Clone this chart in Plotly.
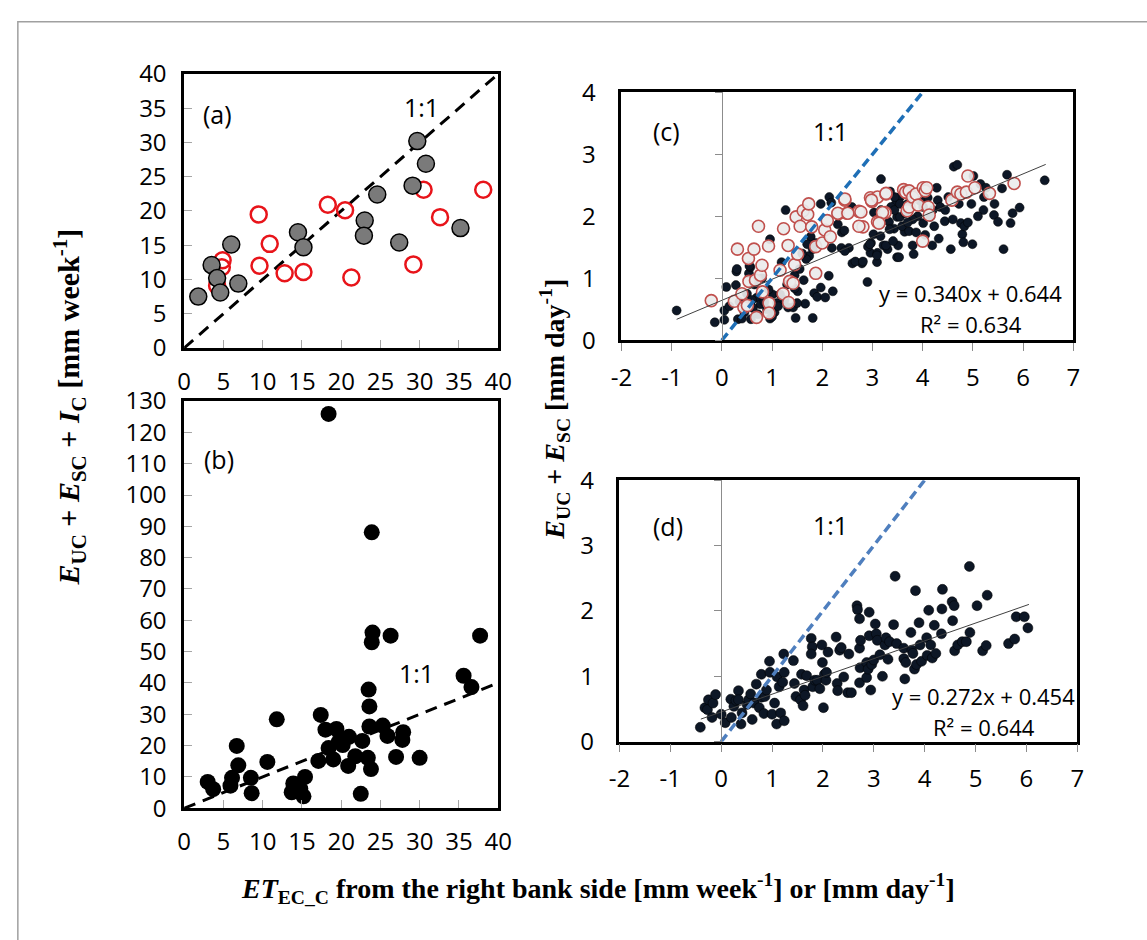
import plotly.graph_objects as go

# ---------------- data ----------------
# (a) weekly sums: period 1 (grey filled) and period 2 (red open)
a_grey = [(1.8, 7.5), (3.5, 12.1), (4.2, 10.2), (4.6, 8.1), (6.0, 15.1), (6.9, 9.4),
          (14.5, 16.9), (15.2, 14.7), (23.0, 18.6), (22.9, 16.4), (24.6, 22.4),
          (27.4, 15.4), (29.1, 23.7), (29.7, 30.2), (30.8, 26.9), (35.2, 17.5)]
a_red = [(4.2, 9.1), (4.8, 11.8), (4.9, 12.8), (9.5, 19.5), (9.6, 12.0), (10.9, 15.2),
         (12.8, 10.9), (15.2, 11.1), (18.3, 20.9), (20.5, 20.1), (21.3, 10.3),
         (29.2, 12.2), (30.5, 23.1), (32.6, 19.1), (38.1, 23.1)]

# (b) weekly sums including interception
b_pts = [(18.4, 125.9), (23.9, 88.1), (24.0, 56.1), (23.9, 53.0), (26.3, 55.1), (37.7, 55.1),
         (35.6, 42.3), (36.6, 38.7), (23.5, 37.9), (23.6, 32.5), (11.8, 28.4), (17.4, 29.8),
         (18.0, 25.1), (19.4, 25.3), (23.6, 26.1), (25.3, 26.4), (25.9, 23.1), (27.9, 24.3),
         (27.8, 21.8), (21.0, 22.8), (20.2, 20.2), (19.7, 21.2), (18.4, 19.2), (19.0, 15.6),
         (17.1, 15.1), (22.7, 21.5), (21.8, 16.6), (20.9, 13.5), (23.4, 16.1), (23.8, 12.5),
         (27.0, 16.4), (30.0, 16.1), (22.5, 4.6), (6.7, 19.9), (6.9, 13.7), (10.6, 14.8),
         (8.5, 9.7), (8.6, 4.8), (6.1, 9.7), (5.9, 7.2), (3.0, 8.4), (3.7, 6.1),
         (13.9, 7.9), (13.7, 5.1), (15.4, 10.0), (15.2, 3.8), (14.8, 6.2)]

# (c) daily values: dark dots and red open circles
c_dark = [(-0.90, 0.48), (-0.14, 0.29), (0.05, 0.48), (0.05, 0.33), (0.09, 0.86), (0.28, 0.89),
          (0.29, 1.11), (0.32, 0.34), (0.54, 1.08), (0.57, 1.18), (0.58, 0.34), (0.70, 0.69),
          (0.77, 0.58), (0.96, 1.63), (0.96, 0.35), (1.01, 0.74), (0.93, 0.82), (1.16, 0.74),
          (1.19, 1.26), (1.27, 2.10), (1.32, 0.53), (1.42, 0.53), (1.47, 0.36), (1.51, 0.79),
          (1.45, 0.84), (1.63, 0.97), (1.66, 0.59), (1.81, 0.36), (1.84, 0.76), (1.90, 0.70),
          (1.97, 0.85), (2.13, 1.04), (2.06, 0.69), (2.21, 0.79), (1.77, 1.67), (1.74, 1.36),
          (1.68, 1.31), (1.81, 1.47), (1.87, 1.57), (1.97, 2.20), (2.14, 2.31), (2.18, 2.22),
          (2.31, 1.87), (2.39, 1.74), (2.44, 1.77), (2.19, 1.49), (2.38, 1.49), (2.53, 1.49),
          (2.45, 1.44), (2.60, 1.24), (2.79, 1.24), (2.90, 0.94), (3.09, 1.26), (2.96, 1.41),
          (2.91, 1.51), (2.97, 1.57), (3.10, 1.41), (3.17, 2.60), (3.03, 2.06), (3.17, 2.10),
          (3.22, 1.53), (3.30, 1.47), (3.49, 1.34), (3.33, 1.91), (3.43, 1.80), (3.49, 1.99),
          (3.46, 2.19), (3.56, 2.32), (3.64, 1.75), (3.51, 1.53),
          (0.15, 0.55), (0.35, 0.62), (0.45, 0.45), (0.62, 0.52), (0.72, 0.42), (0.85, 0.62),
          (0.90, 0.50), (1.05, 0.45), (1.10, 0.60), (1.25, 0.65), (0.50, 0.75), (0.65, 0.90),
          (0.80, 1.00), (1.30, 0.90), (1.45, 1.05), (1.55, 1.15), (1.60, 1.40), (1.70, 1.55),
          (1.50, 0.60), (0.30, 1.15), (0.55, 1.20), (0.60, 0.65), (1.00, 0.38), (1.12, 0.55),
          (0.40, 0.35),
          (2.59, 2.15), (2.66, 1.27), (2.81, 1.27), (2.95, 1.55), (3.02, 1.71), (3.16, 1.68),
          (3.27, 1.53), (3.34, 1.79), (3.41, 1.60), (3.09, 1.37), (3.16, 1.89), (3.37, 2.15),
          (3.44, 2.10), (3.44, 2.31), (3.55, 1.99), (3.59, 1.84), (3.53, 1.34), (3.73, 1.76),
          (3.80, 1.53), (3.82, 1.39), (3.87, 1.74), (4.01, 1.89), (4.01, 2.15), (4.15, 1.99),
          (4.19, 1.53), (4.23, 1.84), (4.28, 2.46), (4.30, 2.26), (4.32, 1.64), (4.35, 2.15),
          (4.44, 1.92), (4.51, 2.31), (4.56, 1.47), (4.62, 2.80), (4.69, 2.83), (4.72, 2.20),
          (4.76, 1.89), (4.79, 1.71), (4.81, 1.58), (4.83, 1.84), (4.97, 2.20), (4.99, 1.55),
          (5.01, 2.65), (5.15, 2.52), (5.21, 2.10), (5.22, 2.31), (5.26, 2.46), (5.43, 2.20),
          (5.42, 2.02), (5.50, 1.91), (5.58, 2.45), (5.61, 1.47), (5.68, 2.67), (5.75, 1.89),
          (5.79, 2.05), (5.93, 2.14), (6.43, 2.58),
          (3.65, 2.05), (3.70, 2.20), (3.90, 2.00), (4.10, 2.30), (4.20, 2.10), (3.80, 1.95),
          (3.95, 2.25), (4.05, 1.70), (3.70, 1.90), (3.35, 2.40), (3.55, 2.20), (4.45, 2.10),
          (4.60, 1.95), (4.90, 1.90), (5.10, 2.00), (4.70, 2.35)]
c_red = [(-0.21, 0.64), (0.25, 0.63), (0.31, 1.47), (0.40, 0.75), (0.44, 0.53), (0.51, 0.56),
         (0.53, 1.32), (0.54, 0.95), (0.64, 1.47), (0.67, 0.97), (0.69, 0.37), (0.73, 1.84),
         (0.77, 1.05), (0.80, 1.21), (0.81, 0.78), (0.93, 1.52), (0.94, 0.60), (0.94, 0.44),
         (1.16, 1.13), (1.22, 0.75), (1.23, 1.80), (1.33, 0.61), (1.32, 1.53), (1.35, 0.95),
         (1.42, 0.92), (1.45, 1.22), (1.51, 1.39), (1.48, 1.99), (1.56, 1.84), (1.62, 2.09),
         (1.71, 2.03), (1.73, 2.20), (1.79, 1.83), (1.87, 1.08), (1.87, 1.51), (2.00, 1.57),
         (2.05, 1.78), (2.10, 1.93), (2.16, 1.67), (2.32, 2.04), (2.45, 2.26), (2.49, 2.05),
         (2.73, 2.08), (2.81, 1.83), (2.96, 2.30), (2.99, 2.24), (3.10, 2.31), (3.10, 1.91),
         (3.27, 2.36), (3.25, 2.06), (3.62, 2.43), (3.68, 2.38), (3.69, 2.09), (3.66, 2.39),
         (3.73, 2.41), (3.73, 2.15), (3.80, 2.31), (3.87, 2.36), (3.91, 2.18), (4.01, 2.46),
         (4.05, 2.41), (4.08, 2.46), (4.11, 2.15), (4.13, 2.02), (4.00, 1.60), (4.58, 2.26),
         (4.69, 2.39), (4.76, 2.36), (4.87, 2.39), (4.90, 2.65), (5.04, 2.46), (5.33, 2.37),
         (5.82, 2.53), (2.98, 2.26), (3.20, 2.06), (3.27, 2.37), (3.13, 1.89), (2.77, 2.07),
         (2.73, 1.84), (2.45, 2.28), (2.31, 2.05), (2.51, 2.05)]
c_slope, c_icept, c_r2 = 0.340, 0.644, 0.634
c_fit_x = [-0.9, 6.45]

# (d) daily values
d_pts = [(-0.41, 0.22), (-0.32, 0.52), (-0.25, 0.64), (-0.27, 0.49), (-0.18, 0.37), (-0.16, 0.59),
         (-0.11, 0.72), (0.00, 0.42), (0.08, 0.29), (0.19, 0.65), (0.20, 0.37), (0.25, 0.54),
         (0.29, 0.63), (0.34, 0.78), (0.34, 0.64), (0.39, 0.27), (0.41, 0.44), (0.51, 0.57),
         (0.54, 0.64), (0.58, 0.73), (0.61, 0.34), (0.65, 0.59), (0.69, 0.88), (0.75, 0.52),
         (0.79, 0.68), (0.79, 1.03), (0.84, 0.43), (0.86, 0.69), (0.89, 0.79), (0.95, 1.23),
         (0.96, 1.06), (1.00, 0.42), (1.05, 0.59), (1.09, 0.27), (1.10, 0.99), (1.14, 0.84),
         (1.17, 0.44), (1.21, 0.91), (1.23, 1.34), (1.24, 1.06), (1.24, 0.32), (1.42, 1.24),
         (1.44, 0.89), (1.47, 0.69), (1.56, 0.64), (1.58, 1.03), (1.61, 0.55), (1.63, 0.79),
         (1.65, 0.71), (1.68, 1.01), (1.77, 1.58), (1.79, 1.45), (1.77, 1.34), (1.80, 0.84),
         (1.84, 0.94), (1.89, 0.94), (1.94, 0.81), (1.98, 1.48), (1.99, 1.21), (2.01, 0.52),
         (2.03, 1.03), (2.06, 0.94), (2.07, 1.06), (2.10, 1.37), (2.26, 1.60), (2.28, 0.89),
         (2.29, 0.78), (2.33, 1.40), (2.36, 1.44), (2.41, 0.99), (2.49, 0.75), (2.51, 1.34),
         (2.56, 0.75), (2.67, 2.08), (2.68, 2.02), (2.72, 1.88), (2.72, 1.43), (2.73, 1.13),
         (2.74, 1.55), (2.72, 0.90), (2.86, 0.98), (2.86, 1.21), (2.89, 1.11), (2.91, 1.98),
         (2.91, 1.62), (2.94, 0.79), (2.96, 1.18), (3.00, 1.25), (3.03, 1.80), (3.05, 1.65),
         (3.07, 1.55), (3.12, 1.33), (3.17, 1.00), (3.22, 1.48), (3.24, 1.59), (3.28, 1.26),
         (3.31, 1.53), (3.39, 1.79), (3.42, 2.53), (3.45, 1.50), (3.59, 1.43), (3.59, 1.27),
         (3.61, 0.96), (3.63, 1.21), (3.73, 1.67), (3.75, 1.40), (3.77, 1.35), (3.82, 2.31),
         (3.80, 1.11), (3.84, 1.18), (3.89, 1.82), (3.91, 1.48), (3.94, 1.23), (4.04, 1.59),
         (4.05, 1.32), (4.08, 2.01), (4.12, 1.48), (4.15, 1.28), (4.19, 1.78), (4.22, 1.35),
         (4.33, 1.65), (4.34, 2.03), (4.35, 2.33), (4.54, 2.14), (4.55, 1.85), (4.58, 2.08),
         (4.59, 1.39), (4.65, 1.48), (4.74, 1.53), (4.82, 1.53), (4.88, 2.68), (4.89, 1.67),
         (5.03, 2.08), (5.14, 1.39), (5.21, 1.47), (5.23, 2.24), (5.65, 1.50), (5.77, 1.57),
         (5.80, 1.91), (5.96, 1.91), (6.03, 1.74)]
d_slope, d_icept, d_r2 = 0.272, 0.454, 0.644
d_fit_x = [-0.4, 6.05]

# axis ticks
week_ticks = list(range(0, 45, 5))
b_yticks = list(range(0, 140, 10))
day_xticks = list(range(-2, 8))
day_yticks = list(range(0, 5))
one_to_one_week = [0, 40]
one_to_one_day = [0, 4]


def unzip(pts):
    return [p[0] for p in pts], [p[1] for p in pts]


# ---------------- figure ----------------
W, H = 1147, 940
TICK_FONT = dict(family="Open Sans", size=24, color="black")
TITLE_FONT = dict(family="Liberation Serif", size=28, color="black")
LEFT_TITLE_FONT = dict(family="Liberation Serif", size=30, color="black")


def fx(px):
    return px / W


def fy(py):
    return 1 - py / H


fig = go.Figure()

# (a)
fig.add_trace(go.Scatter(x=one_to_one_week, y=one_to_one_week, mode="lines",
                         line=dict(color="black", width=3, dash="12px,8px"),
                         xaxis="x", yaxis="y", hoverinfo="skip"))
ax, ay = unzip(a_red)
fig.add_trace(go.Scatter(x=ax, y=ay, mode="markers", xaxis="x", yaxis="y",
                         marker=dict(symbol="circle-open", size=16, color="#e8141a",
                                     line=dict(width=2.5))))
ax, ay = unzip(a_grey)
fig.add_trace(go.Scatter(x=ax, y=ay, mode="markers", xaxis="x", yaxis="y",
                         marker=dict(symbol="circle", size=17, color="#7a7a7a",
                                     line=dict(color="black", width=1.5))))

# (b)
fig.add_trace(go.Scatter(x=one_to_one_week, y=one_to_one_week, mode="lines",
                         line=dict(color="black", width=3, dash="12px,8px"),
                         xaxis="x2", yaxis="y2", hoverinfo="skip"))
bx, by = unzip(b_pts)
fig.add_trace(go.Scatter(x=bx, y=by, mode="markers", xaxis="x2", yaxis="y2",
                         marker=dict(symbol="circle", size=16, color="black")))

# (c)
cx, cy = unzip(c_dark)
fig.add_trace(go.Scatter(x=cx, y=cy, mode="markers", xaxis="x3", yaxis="y3",
                         marker=dict(symbol="circle", size=9, color="#0d1726",
                                     line=dict(color="black", width=0.5))))
cx, cy = unzip(c_red)
fig.add_trace(go.Scatter(x=cx, y=cy, mode="markers", xaxis="x3", yaxis="y3",
                         marker=dict(symbol="circle", size=12, color="rgba(236,236,236,0.92)",
                                     line=dict(color="#c0504d", width=1.6))))
fig.add_trace(go.Scatter(x=c_fit_x, y=[c_slope * v + c_icept for v in c_fit_x], mode="lines",
                         line=dict(color="#404040", width=1), xaxis="x3", yaxis="y3"))
fig.add_trace(go.Scatter(x=one_to_one_day, y=one_to_one_day, mode="lines",
                         line=dict(color="#1f6fb6", width=3.5, dash="9px,5px"),
                         xaxis="x3", yaxis="y5"))

# (d)
dx, dy = unzip(d_pts)
fig.add_trace(go.Scatter(x=dx, y=dy, mode="markers", xaxis="x4", yaxis="y4",
                         marker=dict(symbol="circle", size=10, color="#0d1726",
                                     line=dict(color="black", width=0.5))))
fig.add_trace(go.Scatter(x=d_fit_x, y=[d_slope * v + d_icept for v in d_fit_x], mode="lines",
                         line=dict(color="#404040", width=1), xaxis="x4", yaxis="y4"))
fig.add_trace(go.Scatter(x=one_to_one_day, y=one_to_one_day, mode="lines",
                         line=dict(color="#4f7fbe", width=3.5, dash="9px,5px"),
                         xaxis="x4", yaxis="y6"))


def week_axis(domain, anchor, rng, ticks):
    return dict(domain=domain, anchor=anchor, range=rng, tickvals=ticks,
                ticktext=[str(t) for t in ticks],
                showline=True, linecolor="black", linewidth=2.5, mirror=True,
                ticks="inside", ticklen=8, tickcolor="#a6a6a6", tickwidth=1,
                showgrid=False, zeroline=False, tickfont=TICK_FONT,
                ticklabelstandoff=10)


def day_x(domain, anchor):
    return dict(domain=domain, anchor=anchor, range=[-2, 7], tickvals=day_xticks,
                ticktext=[str(t) for t in day_xticks],
                showline=True, linecolor="black", linewidth=2.5, mirror=True,
                ticks="outside", ticklen=8, tickcolor="#8c8c8c", tickwidth=1,
                showgrid=False, zeroline=False, tickfont=TICK_FONT,
                ticklabelstandoff=6)


def day_y(domain, anchor):
    return dict(domain=domain, anchor=anchor, range=[0, 4], tickvals=day_yticks,
                ticktext=[str(t) for t in day_yticks],
                showline=True, linecolor="black", linewidth=2.5, mirror=True,
                ticks="", showgrid=False, zeroline=False, tickfont=TICK_FONT,
                ticklabelstandoff=18)


c_dom_x = [624, 1086]
d_dom_x = [622, 1090]


def zero_pos(dom):
    return fx(dom[0] + (0 - (-2)) / 9 * (dom[1] - dom[0]))


def zero_axis(over, dom):
    return dict(overlaying=over, anchor="free", position=zero_pos(dom), range=[0, 4],
                tickvals=day_yticks, showticklabels=False, showline=True,
                linecolor="#8c8c8c", linewidth=1, ticks="outside", ticklen=7,
                tickcolor="#8c8c8c", showgrid=False, zeroline=False)


fig.update_layout(
    width=W, height=H, margin=dict(l=0, r=0, t=0, b=0), autosize=False,
    paper_bgcolor="white", plot_bgcolor="white", showlegend=False,
    xaxis=week_axis([fx(177), fx(498)], "y", [0, 40], week_ticks),
    yaxis=week_axis([fy(342), fy(58)], "x", [0, 40], week_ticks),
    xaxis2=week_axis([fx(177), fx(498)], "y2", [0, 40], week_ticks),
    yaxis2=week_axis([fy(819), fy(397)], "x2", [0, 130], b_yticks),
    xaxis3=day_x([fx(c_dom_x[0]), fx(c_dom_x[1])], "y3"),
    yaxis3=day_y([fy(334), fy(77)], "x3"),
    xaxis4=day_x([fx(d_dom_x[0]), fx(d_dom_x[1])], "y4"),
    yaxis4=day_y([fy(750), fy(479)], "x4"),
    yaxis5=zero_axis("y3", c_dom_x),
    yaxis6=zero_axis("y4", d_dom_x),
)

LBL = dict(family="Open Sans", size=25, color="black")
EQ = dict(family="Open Sans", size=22, color="black")
notes = [
    ("x", "y", 4.3, 34.2, "(a)", LBL), ("x", "y", 30.2, 35.2, "1:1", LBL),
    ("x2", "y2", 4.5, 111.5, "(b)", LBL), ("x2", "y2", 29.6, 43.3, "1:1", LBL),
    ("x3", "y3", -1.10, 3.37, "(c)", LBL), ("x3", "y3", 2.17, 3.37, "1:1", LBL),
    ("x3", "y3", 4.95, 0.77, f"y = {c_slope:.3f}x + {c_icept:.3f}", EQ),
    ("x3", "y3", 4.97, 0.27, f"R² = {c_r2:.3f}", EQ),
    ("x4", "y4", -1.05, 3.30, "(d)", LBL), ("x4", "y4", 2.14, 3.31, "1:1", LBL),
    ("x4", "y4", 5.15, 0.70, f"y = {d_slope:.3f}x + {d_icept:.3f}", EQ),
    ("x4", "y4", 5.17, 0.23, f"R² = {d_r2:.3f}", EQ),
]
for xr, yr, x, y, t, f in notes:
    fig.add_annotation(xref=xr, yref=yr, x=x, y=y, text=t, showarrow=False, font=f,
                       xanchor="center", yanchor="middle")

fig.add_annotation(xref="paper", yref="paper", x=fx(60), y=fy(403), textangle=-90,
                   text="<b><i>E</i><sub>UC</sub> + <i>E</i><sub>SC</sub> + <i>I</i><sub>C</sub> "
                        "[mm week<sup>-1</sup>]</b>",
                   showarrow=False, font=LEFT_TITLE_FONT, xanchor="center", yanchor="middle")
fig.add_annotation(xref="paper", yref="paper", x=fx(556), y=fy(405), textangle=-90,
                   text="<b><i>E</i><sub>UC</sub> + <i>E</i><sub>SC</sub> [mm day<sup>-1</sup>]</b>",
                   showarrow=False, font=TITLE_FONT, xanchor="center", yanchor="middle")
fig.add_annotation(xref="paper", yref="paper", x=fx(600), y=fy(902),
                   text="<b><i>ET</i><sub>EC_C</sub> from the right bank side "
                        "[mm week<sup>-1</sup>] or [mm day<sup>-1</sup>]</b>",
                   showarrow=False, font=TITLE_FONT, xanchor="center", yanchor="middle")

# thin grey frame around the figure
fig.add_shape(type="rect", xref="paper", yref="paper", x0=fx(7), y0=fy(960), x1=fx(1170),
              y1=fy(4), line=dict(color="#a0a0a0", width=1.5), layer="below")

fig.write_html("out.html")
